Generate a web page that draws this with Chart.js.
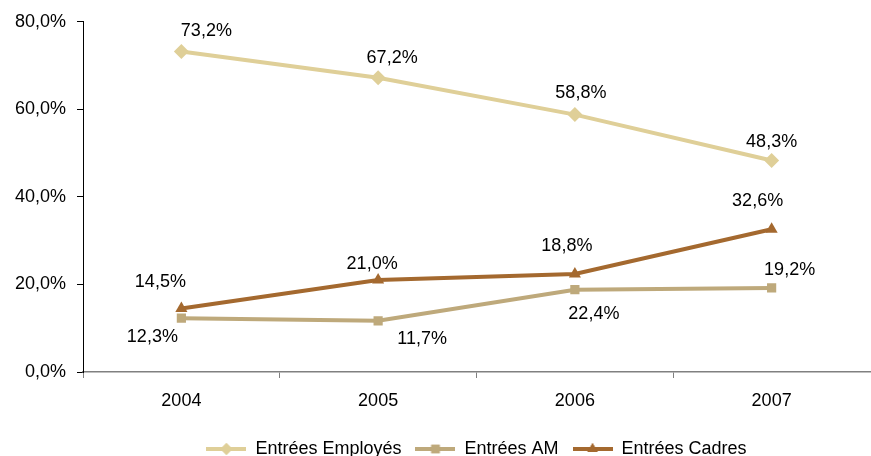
<!DOCTYPE html>
<html>
<head>
<meta charset="utf-8">
<script src="https://cdn.jsdelivr.net/npm/chart.js@4"></script>
<style>
  html, body { margin: 0; padding: 0; background: #fff; }
  #wrap { width: 871px; height: 456px; }
</style>
</head>
<body>
<div id="wrap"><canvas id="grafica"></canvas></div>
<script>
// Données
const annees = ["2004", "2005", "2006", "2007"];
const employes = [73.2, 67.2, 58.8, 48.3];
const am = [12.3, 11.7, 18.8, 19.2];
const cadres = [14.5, 21.0, 22.4, 32.6];
const ticksY = [0, 20, 40, 60, 80];

// Décalage des étiquettes (px) par point
const decalEmployes = [[25, -21], [14, -20], [6, -22], [0, -19]];
const decalAM = [[-29, 19], [44, 18], [-8, -44], [18, -18]];
const decalCadres = [[-21, -26], [-6, -16], [19, 40], [-14, -28]];

const couleurEmployes = "#DFCF98";
const couleurAM = "#BEA97B";
const couleurCadres = "#A4692F";
const police = "'Liberation Sans', Arial, sans-serif";

function pct(v) {
    return v.toFixed(1).replace(".", ",") + "%";
}

// Petit échantillon ligne + marqueur pour la légende
function echantillon(couleur, style) {
    const c = document.createElement("canvas");
    c.width = 40;
    c.height = 14;
    const ctx = c.getContext("2d");
    ctx.strokeStyle = couleur;
    ctx.lineWidth = 4;
    ctx.beginPath();
    ctx.moveTo(0, 7);
    ctx.lineTo(40, 7);
    ctx.stroke();
    ctx.fillStyle = couleur;
    Chart.helpers.drawPoint(ctx, { pointStyle: style, radius: 6, rotation: 0, borderWidth: 0 }, 20, 7);
    ctx.fill();
    return c;
}

const etiquettes = {
    id: "etiquettes",
    afterDatasetsDraw(chart) {
        const ctx = chart.ctx;
        ctx.save();
        ctx.font = "18px " + police;
        ctx.fillStyle = "#000";
        ctx.textAlign = "center";
        ctx.textBaseline = "middle";
        chart.data.datasets.forEach((ds, i) => {
            const meta = chart.getDatasetMeta(i);
            meta.data.forEach((pt, j) => {
                const d = ds.decal[j];
                ctx.fillText(pct(ds.data[j]), pt.x + d[0], pt.y + d[1]);
            });
        });
        ctx.restore();
    }
};

Chart.defaults.font.family = police;
Chart.defaults.font.size = 18;
Chart.defaults.color = "#000";

const canvas = document.getElementById("grafica");
const chart = new Chart(canvas, {
    type: "line",
    data: {
        labels: annees,
        datasets: [
            {
                label: "Entrées Employés",
                data: employes,
                decal: decalEmployes,
                borderColor: couleurEmployes,
                backgroundColor: couleurEmployes,
                borderWidth: 4,
                pointStyle: "rectRot",
                pointRadius: 7.5,
                pointBorderWidth: 0,
                legendImg: echantillon(couleurEmployes, "rectRot")
            },
            {
                label: "Entrées AM",
                data: am,
                decal: decalAM,
                borderColor: couleurAM,
                backgroundColor: couleurAM,
                borderWidth: 4,
                pointStyle: "rect",
                pointRadius: 6.5,
                pointBorderWidth: 0,
                legendImg: echantillon(couleurAM, "rect")
            },
            {
                label: "Entrées Cadres",
                data: cadres,
                decal: decalCadres,
                borderColor: couleurCadres,
                backgroundColor: couleurCadres,
                borderWidth: 4,
                pointStyle: "triangle",
                pointRadius: 7,
                pointBorderWidth: 0,
                legendImg: echantillon(couleurCadres, "triangle")
            }
        ]
    },
    options: {
        responsive: true,
        maintainAspectRatio: false,
        animation: false,
        layout: {
            autoPadding: false,
            padding: { top: 21, right: 1, left: 0, bottom: -12 }
        },
        plugins: {
            tooltip: { enabled: false },
            legend: {
                position: "bottom",
                fullSize: false,
                labels: {
                    usePointStyle: true,
                    pointStyleWidth: 40,
                    padding: 14,
                    color: "#000",
                    font: { size: 18 },
                    generateLabels(chart) {
                        return chart.data.datasets.map((ds, i) => ({
                            text: ds.label,
                            pointStyle: ds.legendImg,
                            fillStyle: ds.borderColor,
                            strokeStyle: ds.borderColor,
                            lineWidth: 0,
                            datasetIndex: i,
                            fontColor: "#000"
                        }));
                    }
                }
            }
        },
        scales: {
            x: {
                offset: true,
                grid: {
                    offset: true,
                    drawOnChartArea: false,
                    tickLength: 6,
                    color: ctx => ctx.index === undefined ? "rgba(0,0,0,0)" : "#808080"
                },
                border: { color: "#808080", width: 1.5 },
                ticks: { padding: 12, color: "#000" },
                afterFit(scale) {
                    scale.height = 54;
                    scale.paddingLeft = 0;
                    scale.paddingRight = 0;
                }
            },
            y: {
                min: 0,
                max: 80,
                afterBuildTicks(scale) {
                    scale.ticks = ticksY.map(v => ({ value: v }));
                },
                grid: {
                    drawOnChartArea: false,
                    tickLength: 6,
                    color: "#000"
                },
                border: { color: "#000", width: 1 },
                ticks: {
                    padding: 11,
                    color: "#000",
                    callback: v => pct(v)
                },
                afterFit(scale) { scale.width = 83; }
            }
        }
    },
    plugins: [etiquettes]
});
</script>
</body>
</html>
